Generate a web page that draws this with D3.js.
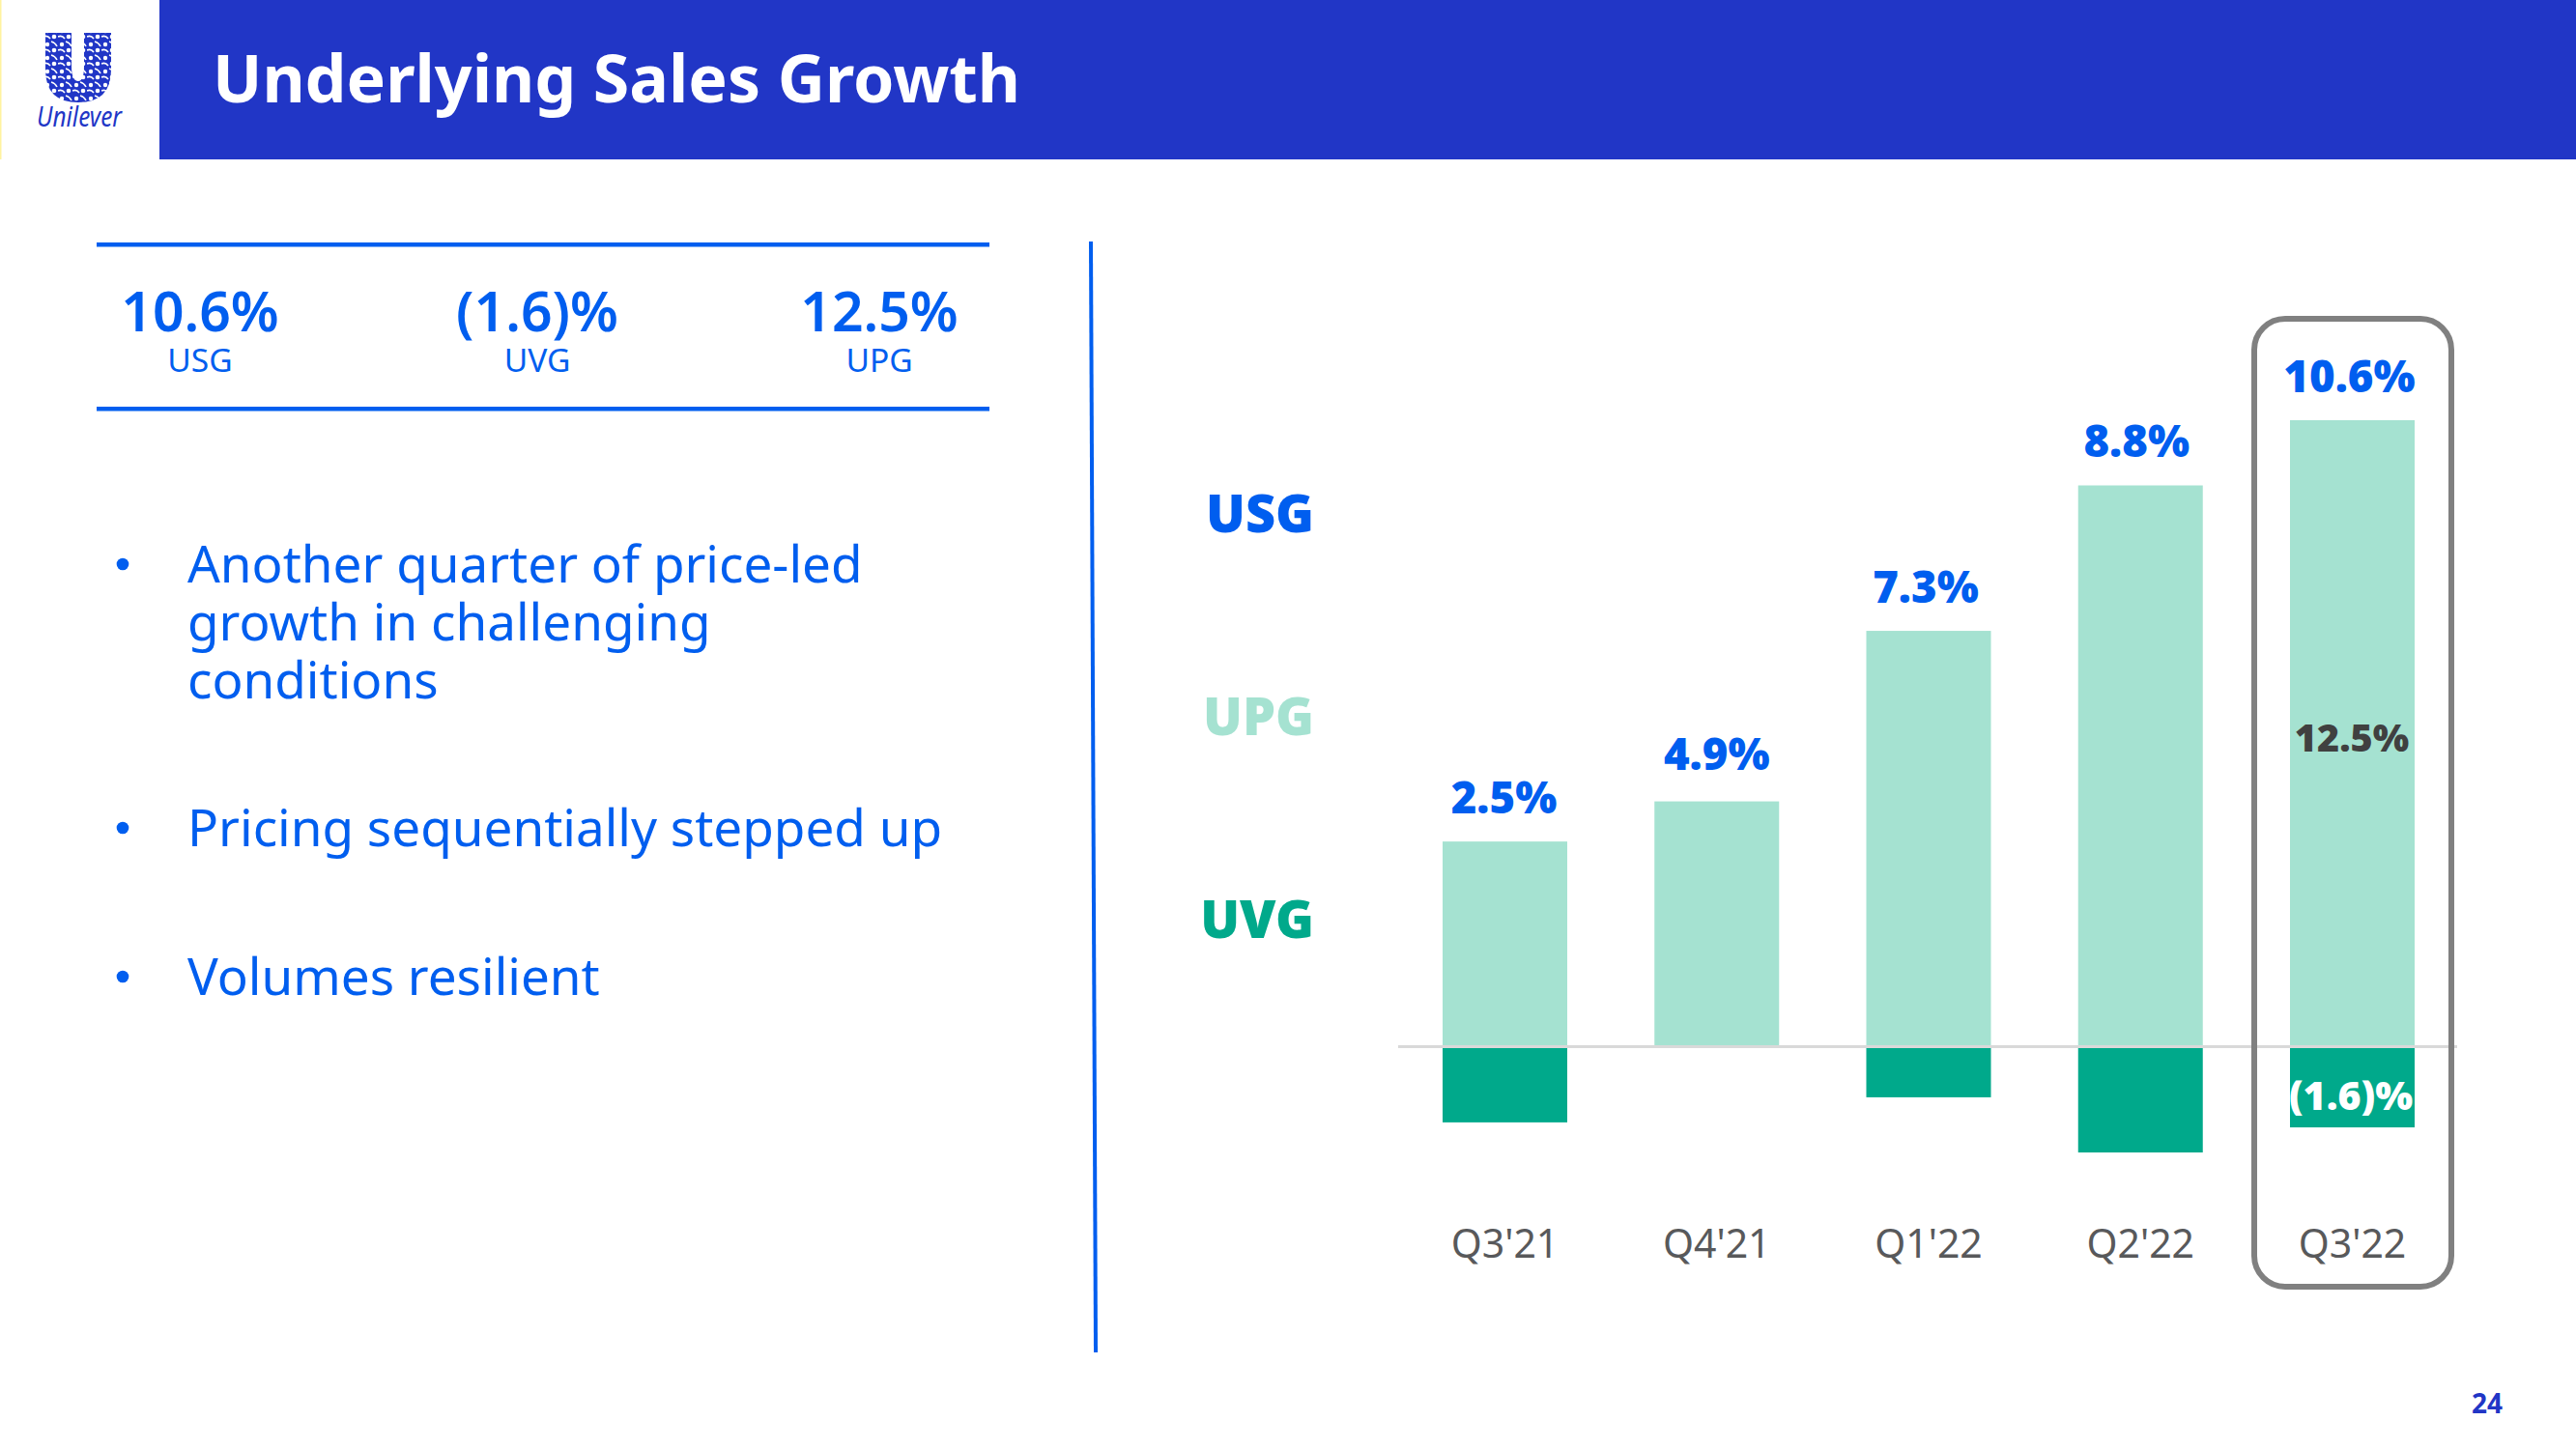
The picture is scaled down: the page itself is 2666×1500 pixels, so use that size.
<!DOCTYPE html>
<html><head><meta charset="utf-8">
<style>html,body{margin:0;padding:0;background:#fff}svg{display:block}text{font-family:"Noto Sans",sans-serif}</style>
<script src="https://cdnjs.cloudflare.com/ajax/libs/d3/7.8.5/d3.min.js"></script>
</head><body><script>
const quarters=["Q3'21","Q4'21","Q1'22","Q2'22","Q3'22"];
const upg=[4.1,4.9,8.3,11.2,12.5];
const uvg=[-1.5,0,-1.0,-2.1,-1.6];
const usgLabels=["2.5%","4.9%","7.3%","8.8%","10.6%"];
const legendNames=["USG","UPG","UVG"];
const legendColors=["#005eef","#a5e2d1","#00a98b"];
const kpiValues=["10.6%","(1.6)%","12.5%"];
const kpiNames=["USG","UVG","UPG"];
const bullets=[["Another quarter of price-led","growth in challenging","conditions"],["Pricing sequentially stepped up"],["Volumes resilient"]];

const BLUE="#005eef",NAVY="#2136c6",LIGHT="#a5e2d1",DARK="#00a98b",GREY="#58595b";
const svg=d3.select("body").append("svg").attr("width",2666).attr("height",1500);
svg.append("rect").attr("width",2666).attr("height",1500).attr("fill","#fff");
svg.append("rect").attr("x",165).attr("width",2501).attr("height",165).attr("fill",NAVY);
svg.append("rect").attr("width",1.5).attr("height",165).attr("fill","#fff3a0");
svg.append("text").attr("x",220).attr("y",106).attr("font-size",68).attr("font-weight",700).attr("fill","#fff").text("Underlying Sales Growth");

// logo: U silhouette filled with an organic motif texture
const defs=svg.append("defs");
const pat=defs.append("pattern").attr("id","lg").attr("patternUnits","userSpaceOnUse").attr("width",15).attr("height",14);
pat.append("rect").attr("width",15).attr("height",14).attr("fill",NAVY);
pat.append("circle").attr("cx",4).attr("cy",4).attr("r",2.2).attr("fill","#fff");
pat.append("path").attr("d","M8 1Q12 2 14 6").attr("stroke","#fff").attr("stroke-width",1.6).attr("fill","none");
pat.append("path").attr("d","M0 10Q4 8 7 12").attr("stroke","#fff").attr("stroke-width",1.6).attr("fill","none");
pat.append("circle").attr("cx",11).attr("cy",10).attr("r",2.3).attr("fill","#fff");
svg.append("path").attr("d","M47 34H74V68Q74 84 81 84Q87 84 87 68V34H115V72Q115 106 81 106Q47 106 47 72Z").attr("fill","url(#lg)");
svg.append("text").attr("x",82).attr("y",131).attr("text-anchor","middle").attr("textLength",88).attr("lengthAdjust","spacingAndGlyphs").attr("font-family","Liberation Serif").attr("font-style","italic").attr("font-size",29).attr("fill",NAVY).text("Unilever");

// KPI panel
[251,421].forEach(y=>svg.append("rect").attr("x",100).attr("y",y).attr("width",924).attr("height",4.5).attr("fill",BLUE));
const kpiX=[207,556,910];
kpiValues.forEach((v,i)=>{
 svg.append("text").attr("x",kpiX[i]).attr("y",343).attr("text-anchor","middle").attr("font-size",57).attr("font-weight",600).attr("fill",BLUE).text(v);
 svg.append("text").attr("x",kpiX[i]).attr("y",385).attr("text-anchor","middle").attr("font-size",33.5).attr("fill",BLUE).text(kpiNames[i]);
});

// bullets
const bulletY=[[603,663,723],[876],[1030]];
bullets.forEach((ls,i)=>{
 svg.append("circle").attr("cx",127).attr("cy",bulletY[i][0]-19).attr("r",6.3).attr("fill",BLUE);
 ls.forEach((t,j)=>svg.append("text").attr("x",194).attr("y",bulletY[i][j]).attr("font-size",53).attr("fill",BLUE).text(t));
});

// divider
svg.append("line").attr("x1",1129).attr("y1",250).attr("x2",1134).attr("y2",1400).attr("stroke",BLUE).attr("stroke-width",4);

// legend
const legendY=[551,761,971];
legendNames.forEach((n,i)=>svg.append("text").attr("x",1360).attr("y",legendY[i]).attr("text-anchor","end").attr("font-size",54).attr("font-weight",900).attr("fill",legendColors[i]).text(n));

// chart
const x=d3.scaleBand().domain(quarters).range([1493,2499]).paddingInner(0.4116).paddingOuter(0);
const y=d3.scaleLinear().domain([0,12.5]).range([1084,435]);
svg.append("g").selectAll("rect").data(quarters).join("rect")
 .attr("x",d=>x(d)).attr("width",x.bandwidth()).attr("y",(d,i)=>y(upg[i])).attr("height",(d,i)=>y(0)-y(upg[i])).attr("fill",LIGHT);
svg.append("g").selectAll("rect").data(quarters).join("rect")
 .attr("x",d=>x(d)).attr("width",x.bandwidth()).attr("y",y(0)).attr("height",(d,i)=>y(uvg[i])-y(0)).attr("fill",DARK);
svg.append("rect").attr("x",1447).attr("y",y(0)-2).attr("width",1096).attr("height",3).attr("fill","#d9d9d9");

// highlight box
svg.append("rect").attr("x",2333).attr("y",330).attr("width",204).attr("height",1002).attr("rx",32).attr("fill","none").attr("stroke","#808080").attr("stroke-width",6);

// usg labels (small per-label nudges follow the reference placement)
const labelDx=[-1,0,-3,-4,-3], labelDy=[-29,-33,-29,-29,-29];
svg.append("g").selectAll("text").data(quarters).join("text")
 .attr("x",(d,i)=>x(d)+x.bandwidth()/2+labelDx[i])
 .attr("y",(d,i)=>y(upg[i])+labelDy[i]).attr("text-anchor","middle").attr("font-size",45.5).attr("font-weight",900).attr("fill",BLUE)
 .text((d,i)=>usgLabels[i]);
svg.append("text").attr("x",2434).attr("y",778).attr("text-anchor","middle").attr("font-size",39.5).attr("font-weight",900).attr("fill","#404040").text("12.5%");
svg.append("text").attr("x",2433).attr("y",1149).attr("text-anchor","middle").attr("font-size",41).attr("font-weight",900).attr("fill","#fff").text("(1.6)%");

// x labels
svg.append("g").attr("transform","translate(0,1302)")
 .call(d3.axisBottom(x).tickSize(0).tickPadding(0))
 .call(g=>g.select(".domain").remove())
 .selectAll("text").attr("font-size",41).attr("fill",GREY).attr("font-family",'"Noto Sans",sans-serif').attr("dy",0).attr("y",0).attr("dominant-baseline","auto");

svg.append("text").attr("x",2574).attr("y",1463).attr("text-anchor","middle").attr("font-size",28).attr("font-weight",700).attr("fill",NAVY).text("24");
</script></body></html>
